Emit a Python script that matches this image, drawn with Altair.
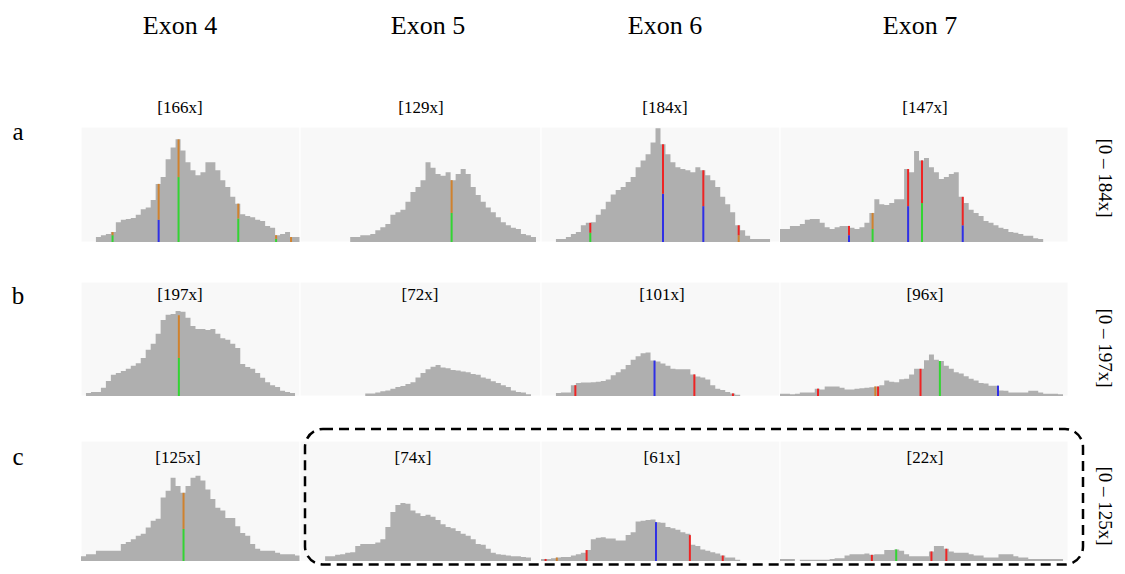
import altair as alt
import pandas as pd

# ---------------- text content ----------------
exons = ["Exon 4", "Exon 5", "Exon 6", "Exon 7"]
row_letters = ["a", "b", "c"]
row_ranges = ["[0 – 184x]", "[0 – 197x]", "[0 – 125x]"]
peak_labels = [
    ["[166x]", "[129x]", "[184x]", "[147x]"],
    ["[197x]", "[72x]", "[101x]", "[96x]"],
    ["[125x]", "[74x]", "[61x]", "[22x]"],
]

# ---------------- coverage per bin (x coverage) ----------------
cov_a_ex4 = [0, 0, 0, 8, 11, 13, 16, 32, 36, 37, 39, 44, 53, 56, 68, 94, 105, 134, 153, 166,
             148, 129, 116, 108, 113, 129, 129, 116, 100, 89, 73, 62, 45, 42, 40, 36, 34, 26, 23, 11,
             13, 16, 8, 8]
cov_a_ex5 = [0, 0, 0, 0, 0, 0, 0, 0, 0, 0, 8, 8, 11, 11, 13, 19, 24, 29, 44, 48,
             52, 65, 81, 89, 100, 129, 120, 110, 107, 113, 100, 110, 118, 110, 89, 76, 65, 56, 48, 40,
             32, 27, 23, 21, 13, 11, 8, 0]
cov_a_ex6 = [0, 0, 0, 5, 5, 8, 13, 16, 27, 31, 32, 44, 53, 65, 77, 84, 89, 97, 105, 121,
             132, 142, 161, 184, 158, 142, 129, 121, 118, 116, 113, 121, 116, 108, 100, 89, 73, 61, 48, 27,
             19, 10, 5, 5, 5, 5, 0, 0]
cov_a_ex7 = [21, 21, 26, 26, 29, 36, 37, 37, 31, 24, 21, 24, 26, 26, 23, 21, 24, 31, 47, 69,
             61, 60, 63, 69, 69, 118, 113, 147, 132, 136, 121, 113, 102, 105, 110, 113, 73, 63, 52, 47,
             42, 34, 31, 27, 23, 21, 16, 15, 13, 10, 10, 6, 5, 0, 0, 0, 0, 0]

cov_b_ex4 = [0, 7, 9, 9, 19, 35, 49, 53, 58, 63, 70, 76, 88, 107, 121, 144, 176, 188, 190, 197,
             195, 181, 162, 155, 155, 153, 155, 144, 134, 130, 121, 111, 74, 67, 63, 53, 42, 32, 25, 21,
             12, 9, 7, 0]
cov_b_ex5 = [0, 0, 0, 0, 0, 0, 0, 0, 0, 0, 0, 0, 0, 6, 6, 8, 11, 13, 17, 21,
             23, 28, 32, 43, 53, 62, 68, 72, 66, 64, 60, 59, 57, 55, 51, 49, 43, 40, 34, 30,
             25, 21, 13, 9, 8, 4, 0, 0]
cov_b_ex6 = [0, 0, 0, 7, 8, 8, 25, 30, 31, 31, 32, 33, 35, 38, 48, 55, 62, 72, 84, 92,
             99, 101, 82, 80, 75, 70, 63, 62, 62, 62, 50, 45, 43, 38, 25, 17, 14, 9, 6, 3,
             0, 0, 0, 0, 0, 0, 0, 0]
cov_b_ex7 = [5, 5, 4, 5, 8, 8, 8, 17, 15, 22, 22, 22, 19, 15, 15, 17, 18, 19, 20, 22,
             25, 36, 33, 32, 39, 40, 50, 63, 63, 83, 96, 84, 81, 70, 63, 55, 52, 46, 40, 36,
             30, 29, 24, 24, 13, 12, 8, 8, 8, 8, 12, 12, 8, 5, 5, 5, 4, 0]

cov_c_ex4 = [7, 10, 10, 15, 15, 15, 15, 15, 25, 28, 32, 37, 40, 49, 59, 62, 93, 103, 122, 110,
             100, 110, 122, 125, 118, 105, 91, 78, 74, 63, 63, 51, 41, 37, 25, 18, 15, 15, 15, 12,
             10, 10, 10, 8]
cov_c_ex5 = [0, 0, 0, 0, 0, 7, 7, 9, 10, 12, 13, 22, 25, 25, 25, 27, 32, 50, 72, 82,
             85, 84, 74, 70, 66, 68, 65, 60, 54, 50, 48, 44, 40, 37, 32, 25, 24, 18, 12, 10,
             9, 8, 7, 7, 6, 5, 0, 0]
cov_c_ex6 = [3, 3, 4, 5, 6, 6, 8, 10, 12, 16, 32, 34, 35, 33, 33, 30, 30, 38, 42, 58,
             59, 60, 61, 57, 56, 50, 48, 46, 42, 40, 24, 22, 17, 15, 13, 11, 8, 5, 5, 2,
             0, 0, 0, 0, 0, 0, 0, 0]
cov_c_ex7 = [3, 3, 3, 0, 2, 2, 2, 2, 2, 2, 3, 4, 4, 8, 10, 10, 10, 11, 9, 10,
             10, 16, 16, 17, 15, 10, 7, 7, 7, 7, 14, 22, 22, 18, 14, 12, 12, 12, 10, 8,
             8, 5, 5, 5, 10, 10, 10, 7, 5, 5, 3, 3, 3, 3, 3, 3, 3, 0]

COVERAGE = [
    [cov_a_ex4, cov_a_ex5, cov_a_ex6, cov_a_ex7],
    [cov_b_ex4, cov_b_ex5, cov_b_ex6, cov_b_ex7],
    [cov_c_ex4, cov_c_ex5, cov_c_ex6, cov_c_ex7],
]

# ---------------- mismatch (allele) bars: (bin position, [(base, from, to), ...]) ----------------
snv_a = [
    [(6.34, [("A", 0, 11), ("G", 11, 16)]), (15.6, [("C", 0, 36), ("G", 36, 94)]),
     (19.6, [("A", 0, 105), ("G", 105, 166)]), (31.6, [("A", 0, 38), ("G", 38, 62)]),
     (39.2, [("A", 0, 5), ("G", 5, 11)]), (42.2, [("G", 0, 8)])],
    [(30.2, [("A", 0, 47), ("G", 47, 100)])],
    [(9.9, [("A", 0, 15), ("T", 15, 31)]), (24.5, [("C", 0, 78), ("T", 78, 158)]),
     (32.6, [("C", 0, 58), ("T", 58, 116)]), (39.7, [("G", 0, 11), ("T", 11, 27)])],
    [(13.9, [("C", 0, 11), ("T", 11, 26)]), (18.65, [("A", 0, 21), ("G", 21, 47)]),
     (25.8, [("C", 0, 58), ("T", 58, 118)]), (28.6, [("A", 0, 63), ("T", 63, 132)]),
     (36.8, [("C", 0, 27), ("T", 27, 73)])],
]
snv_b = [
    [(19.66, [("A", 0, 88), ("G", 88, 187)])],
    [],
    [(6.9, [("T", 0, 25)]), (22.8, [("C", 0, 82)]), (30.8, [("T", 0, 50)]), (38.55, [("T", 0, 6)])],
    [(7.65, [("T", 0, 17)]), (19.2, [("G", 0, 22)]), (19.75, [("T", 0, 22)]),
     (28.3, [("T", 0, 63)]), (32.2, [("A", 0, 81)]), (43.9, [("C", 0, 24)])],
]
snv_c = [
    [(20.6, [("A", 0, 47), ("G", 47, 100)])],
    [],
    [(0.92, [("T", 0, 3)]), (3.17, [("G", 0, 5)]), (9.16, [("T", 0, 16)]),
     (23.09, [("C", 0, 57)]), (29.9, [("T", 0, 38)]), (36.5, [("T", 0, 8)])],
    [(18.5, [("T", 0, 9)]), (23.4, [("A", 0, 17)]), (30.5, [("T", 0, 14)]), (33.5, [("T", 0, 18)])],
]
SNVS = [snv_a, snv_b, snv_c]

# ---------------- styling / layout ----------------
BASE_COLORS = {"A": "#33d433", "C": "#2f2fe6", "G": "#d0822e", "T": "#ee2424"}
BG = "#f8f8f8"
GRAY = "#afafaf"
FONT = "Liberation Serif"
M = 8  # page margin
COL_X = [(81, 300), (300, 541), (541, 780), (780, 1068)]
ROW_Y = [(127, 242), (282, 396), (441, 561)]   # (top, baseline) in page px
ROW_DOMAIN_MAX = [186, 264, 176]               # coverage at top of each track

LABEL_POS = [
    [(180, 108), (421, 108), (665, 108), (925, 108)],
    [(180, 295), (420, 295), (662, 295), (925, 295)],
    [(178, 458), (413, 458), (662, 458), (925, 458)],
]
EXON_POS = [(180, 26), (428, 26), (665, 26), (920, 26)]
LETTER_POS = [(18, 132), (18, 296), (18, 457)]
RANGE_POS = [(1105, 178), (1105, 348), (1105, 506)]
FRAME = (305, 1083, 429, 564.5)  # left, right, top, bottom (page px)

layers = []
for r in range(3):
    for c in range(4):
        cov = COVERAGE[r][c]
        n = len(cov)
        ymax = ROW_DOMAIN_MAX[r]
        sx = alt.Scale(domain=[0, n], range=[COL_X[c][0] - M, COL_X[c][1] - M], nice=False, zero=False)
        sy = alt.Scale(domain=[0, ymax], range=[ROW_Y[r][1] - M, ROW_Y[r][0] - M], nice=False, zero=True)

        bg_df = pd.DataFrame({"x0": [0], "x1": [n], "y0": [0], "y1": [ymax]})
        layers.append(
            alt.Chart(bg_df).mark_rect(color=BG, stroke="white", strokeWidth=1).encode(
                x=alt.X("x0:Q", scale=sx, axis=None), x2="x1:Q",
                y=alt.Y("y0:Q", scale=sy, axis=None), y2="y1:Q",
            )
        )
        area_df = pd.DataFrame({"i": list(range(n + 1)), "cov": cov + [cov[-1]]})
        layers.append(
            alt.Chart(area_df).mark_area(interpolate="step-after", color=GRAY).encode(
                x=alt.X("i:Q", scale=sx, axis=None),
                y=alt.Y("cov:Q", scale=sy, axis=None),
            )
        )
        rows = []
        for pos, segs in SNVS[r][c]:
            for base, lo, hi in segs:
                rows.append({"pos": pos, "lo": lo, "hi": hi, "col": BASE_COLORS[base]})
        if rows:
            layers.append(
                alt.Chart(pd.DataFrame(rows)).mark_rule(strokeWidth=2).encode(
                    x=alt.X("pos:Q", scale=sx, axis=None),
                    y=alt.Y("lo:Q", scale=sy, axis=None), y2="hi:Q",
                    color=alt.Color("col:N", scale=None),
                )
            )


def text_layer(txt, x, y, size, angle=0):
    kw = dict(font=FONT, fontSize=size, color="black", align="center", baseline="middle")
    if angle:
        kw["angle"] = angle
    return alt.Chart(pd.DataFrame({"t": [txt]})).mark_text(**kw).encode(
        text="t:N", x=alt.value(x - M), y=alt.value(y - M)
    )


for (x, y), t in zip(EXON_POS, exons):
    layers.append(text_layer(t, x, y, 26))
for r in range(3):
    for c in range(4):
        x, y = LABEL_POS[r][c]
        layers.append(text_layer(peak_labels[r][c], x, y, 17))
    layers.append(text_layer(row_letters[r], LETTER_POS[r][0], LETTER_POS[r][1], 25))
    layers.append(text_layer(row_ranges[r], RANGE_POS[r][0], RANGE_POS[r][1], 19, angle=90))

# dashed rounded frame around row c, exons 5-7
fl, fr, ft, fb = FRAME
layers.append(
    alt.Chart(pd.DataFrame({"k": [0]})).mark_rect(
        fillOpacity=0, stroke="black", strokeWidth=2.5, strokeDash=[10, 6], cornerRadius=18
    ).encode(x=alt.value(fl - M), x2=alt.value(fr - M), y=alt.value(ft - M), y2=alt.value(fb - M))
)

chart = (
    alt.layer(*layers)
    .resolve_scale(x="independent", y="independent")
    .properties(width=1109, height=558, padding=0, autosize="none", background="white")
    .configure_view(stroke=None)
)

chart.save("out.html", embed_options={"renderer": "svg", "actions": False})
